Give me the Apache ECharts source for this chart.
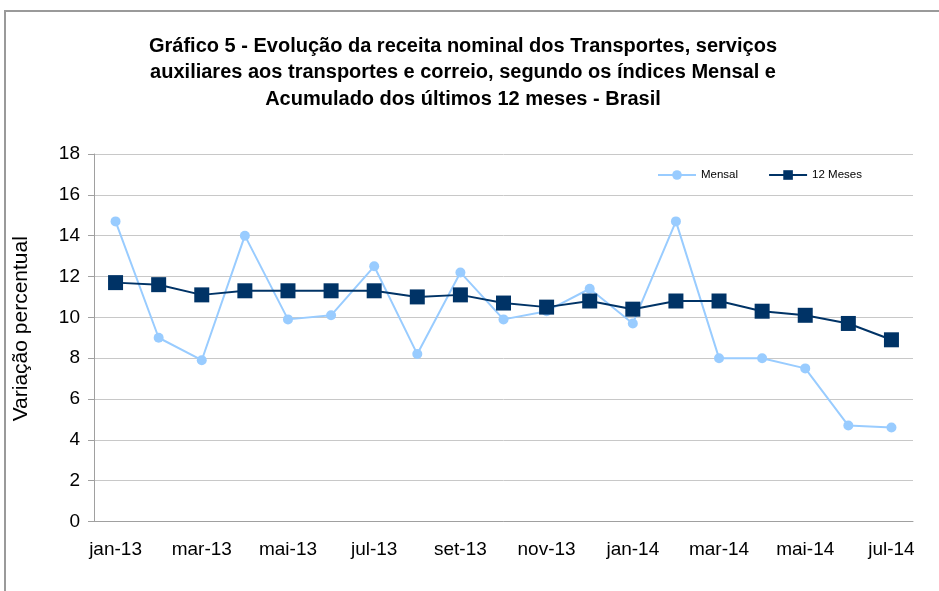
<!DOCTYPE html>
<html>
<head>
<meta charset="utf-8">
<script src="https://cdn.jsdelivr.net/npm/echarts@6/dist/echarts.min.js"></script>
<style>
  html, body { margin: 0; padding: 0; background: #fff; }
  #frame { position: absolute; left: 4px; top: 10px; width: 960px; height: 620px; border: 2px solid #9a9a9a; box-sizing: border-box; }
  #chart { position: absolute; left: 0; top: 0; width: 939px; height: 591px; }
</style>
</head>
<body>
<div id="frame"></div>
<div id="chart"></div>
<script>
// meses jan-13 .. jul-14
const months = ['jan-13', 'fev-13', 'mar-13', 'abr-13', 'mai-13', 'jun-13', 'jul-13', 'ago-13', 'set-13',
  'out-13', 'nov-13', 'dez-13', 'jan-14', 'fev-14', 'mar-14', 'abr-14', 'mai-14', 'jun-14', 'jul-14'];

const mensal = [14.7, 9.0, 7.9, 14.0, 9.9, 10.1, 12.5, 8.2, 12.2, 9.9, 10.3, 11.4, 9.7, 14.7, 8.0, 8.0, 7.5, 4.7, 4.6];
const doze = [11.7, 11.6, 11.1, 11.3, 11.3, 11.3, 11.3, 11.0, 11.1, 10.7, 10.5, 10.8, 10.4, 10.8, 10.8, 10.3, 10.1, 9.7, 8.9];

const titleText = 'Gráfico 5 - Evolução da receita nominal dos Transportes, serviços\n' +
  'auxiliares aos transportes e correio, segundo os índices Mensal e\n' +
  'Acumulado dos últimos 12 meses - Brasil';

const FONT = 'Liberation Sans, Arial';

const chart = echarts.init(document.getElementById('chart'), null, { renderer: 'canvas' });
chart.setOption({
  backgroundColor: 'transparent',
  animation: false,
  title: {
    text: titleText,
    left: 458,
    top: 28,
    textAlign: 'center',
    textStyle: { fontFamily: FONT, fontSize: 20, fontWeight: 'bold', color: '#000', lineHeight: 26.5 }
  },
  legend: {
    top: 164,
    left: 652,
    itemGap: 30,
    itemWidth: 38,
    itemHeight: 12,
    textStyle: { fontFamily: FONT, fontSize: 11.5, color: '#000' },
    data: ['Mensal', '12 Meses']
  },
  grid: { left: 94, right: 26, top: 154, bottom: 69.5 },
  xAxis: {
    type: 'category',
    data: months,
    boundaryGap: true,
    axisLine: { lineStyle: { color: '#a0a0a0', width: 1 } },
    axisTick: { interval: 1, length: 6, lineStyle: { color: '#a0a0a0' } },
    axisLabel: { interval: 1, color: '#000', fontFamily: FONT, fontSize: 19, margin: 19 },
    splitLine: { show: false }
  },
  yAxis: {
    type: 'value',
    min: 0,
    max: 18,
    interval: 2,
    name: 'Variação percentual',
    nameLocation: 'middle',
    nameGap: 62,
    nameTextStyle: { fontFamily: FONT, fontSize: 21, color: '#000', padding: [0, 0, 0, 18] },
    axisLine: { show: true, lineStyle: { color: '#a0a0a0' } },
    axisTick: { show: true, length: 6, lineStyle: { color: '#a0a0a0' } },
    axisLabel: { color: '#000', fontFamily: FONT, fontSize: 19, margin: 14 },
    splitLine: { lineStyle: { color: '#c8c8c8', width: 1 } }
  },
  series: [
    {
      name: 'Mensal',
      type: 'line',
      data: mensal,
      symbol: 'circle',
      symbolSize: 10,
      lineStyle: { color: '#99ccff', width: 2 },
      itemStyle: { color: '#99ccff' },
      z: 2
    },
    {
      name: '12 Meses',
      type: 'line',
      data: doze,
      symbol: 'rect',
      symbolSize: 15,
      lineStyle: { color: '#003366', width: 2 },
      itemStyle: { color: '#003366' },
      z: 3
    }
  ]
});
</script>
</body>
</html>
